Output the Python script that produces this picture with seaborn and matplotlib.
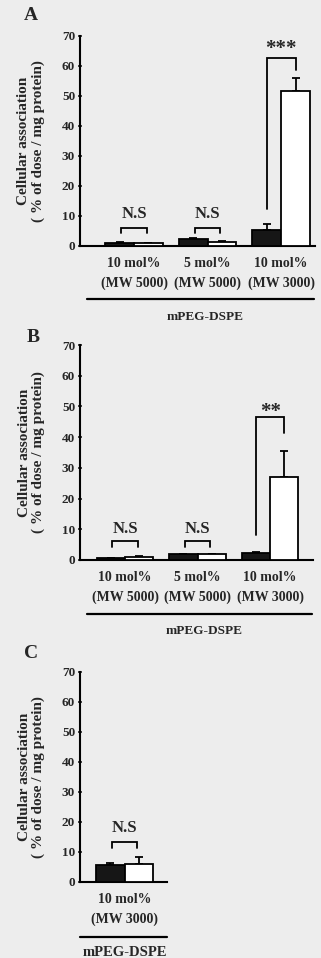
import numpy as np
import pandas as pd
import matplotlib
matplotlib.use("Agg")
import matplotlib.pyplot as plt
import seaborn as sns

sns.set_theme(style="ticks")
plt.rcParams["font.family"] = ["Liberation Serif", "DejaVu Serif"]
plt.rcParams["font.weight"] = "bold"

# ---------------- data ----------------
series_names = ["Formulation 1", "Formulation 2"]  # filled / open bars

cats_AB = ["10 mol%\n(MW 5000)", "5 mol%\n(MW 5000)", "10 mol%\n(MW 3000)"]
cats_C = ["10 mol%\n(MW 3000)"]

A_filled = [1.0, 2.2, 5.3]
A_filled_err = [0.2, 0.6, 2.0]
A_open = [0.9, 1.3, 51.7]
A_open_err = [0.2, 0.3, 4.3]

B_filled = [0.5, 1.8, 2.2]
B_filled_err = [0.2, 0.3, 0.3]
B_open = [0.9, 1.8, 27.0]
B_open_err = [0.3, 0.3, 8.5]

C_filled = [5.6]
C_filled_err = [0.8]
C_open = [6.0]
C_open_err = [2.3]

yticks = [0, 10, 20, 30, 40, 50, 60, 70]
ylabel = "Cellular association\n( % of dose / mg protein)"
group_label = "mPEG-DSPE"

# significance annotations: (category index, text, bracket top, left leg bottom, right leg bottom, text y)
sig_A = [(0, "N.S", 6.0, 4.3, 4.3, 10.8), (1, "N.S", 6.0, 4.3, 4.3, 10.8),
         (2, "***", 62.7, 12.5, 58.7, 65.5)]
sig_B = [(0, "N.S", 6.2, 4.2, 4.2, 10.0), (1, "N.S", 6.2, 4.2, 4.2, 10.0),
         (2, "**", 46.6, 8.0, 41.4, 48.3)]
sig_C = [(0, "N.S", 13.4, 11.4, 11.4, 18.1)]

BG = "#ededed"
FILL = "#161616"


def long_df(cats, filled, opened):
    rows = []
    for c, f, o in zip(cats, filled, opened):
        rows.append({"cat": c, "series": series_names[0], "value": f})
        rows.append({"cat": c, "series": series_names[1], "value": o})
    return pd.DataFrame(rows)


def draw_panel(ax, cats, filled, ferr, opened, oerr, sigs, xlim, line_y, text_y,
               line_x=(0.0, 1.0), group_fs=9.5):
    df = long_df(cats, filled, opened)
    sns.barplot(data=df, x="cat", y="value", hue="series", order=cats,
                hue_order=series_names,
                palette={series_names[0]: FILL, series_names[1]: "white"},
                width=0.78, edgecolor="black", linewidth=1.3, errorbar=None,
                legend=False, ax=ax, zorder=3)
    centers = []
    for cont, vals, errs in zip(ax.containers, [filled, opened], [ferr, oerr]):
        xs = [b.get_x() + b.get_width() / 2 for b in cont]
        centers.append(xs)
        ax.errorbar(xs, vals, yerr=[np.zeros(len(vals)), errs], fmt="none",
                    ecolor="black", elinewidth=1.3, capsize=3, capthick=1.3,
                    zorder=2)
    for i, txt, top, lb, rb, ty in sigs:
        xl, xr = centers[0][i], centers[1][i]
        if txt == "N.S":
            xl, xr = xl + 0.02, xr - 0.02
        ax.plot([xl, xl, xr, xr], [lb, top, top, rb], color="black", lw=1.3,
                zorder=4, solid_joinstyle="miter")
        fs = 12 if txt == "N.S" else 15
        ax.text((xl + xr) / 2, ty, txt, ha="center", va="center",
                fontsize=fs, fontweight="bold", zorder=5)
    ax.set_ylim(0, 70)
    ax.set_xlim(*xlim)
    ax.set_yticks(yticks)
    ax.set_yticklabels([str(t) for t in yticks], fontsize=9.5, fontweight="bold")
    ax.set_xticks(range(len(cats)))
    ax.set_xticklabels(cats, fontsize=10, fontweight="bold", linespacing=1.6)
    ax.tick_params(axis="x", length=0, pad=8)
    ax.tick_params(axis="y", length=3, width=1.2, direction="inout", pad=2)
    ax.set_xlabel("")
    ax.set_ylabel(ylabel, fontsize=11, fontweight="bold", linespacing=1.1)
    ax.set_facecolor(BG)
    for s in ["top", "right"]:
        ax.spines[s].set_visible(False)
    for s in ["left", "bottom"]:
        ax.spines[s].set_linewidth(1.5)
        ax.spines[s].set_color("black")
    ax.plot(list(line_x), [line_y, line_y], transform=ax.transAxes, color="black",
            lw=1.6, clip_on=False)
    ax.text(0.5 * (line_x[0] + line_x[1]) + 0.02, text_y, group_label,
            transform=ax.transAxes, ha="center", va="center",
            fontsize=group_fs, fontweight="bold")


W, H = 321, 958
fig = plt.figure(figsize=(W / 100, H / 100), dpi=100, facecolor=BG)


def rect(left, right, top, bottom):
    return [left / W, 1 - bottom / H, (right - left) / W, (bottom - top) / H]


axA = fig.add_axes(rect(80, 315, 36, 246))
draw_panel(axA, cats_AB, A_filled, A_filled_err, A_open, A_open_err, sig_A,
           (-0.735, 2.46), -0.252, -0.338, line_x=(0.03, 0.995))
axA.yaxis.set_label_coords(-0.15, 0.5)

axB = fig.add_axes(rect(80, 313, 345, 560))
draw_panel(axB, cats_AB, B_filled, B_filled_err, B_open, B_open_err, sig_B,
           (-0.62, 2.59), -0.25, -0.33, line_x=(0.03, 0.995))
axB.yaxis.set_label_coords(-0.15, 0.5)

axC = fig.add_axes(rect(80, 167, 672, 882))
draw_panel(axC, cats_C, C_filled, C_filled_err, C_open, C_open_err, sig_C,
           (-0.61, 0.58), -0.262, -0.335, line_x=(0.0, 1.0), group_fs=10.5)
axC.yaxis.set_label_coords(-0.40, 0.5)

for letter, (x, y) in zip("ABC", [(31, 16), (33, 337), (31, 654)]):
    fig.text(x / W, 1 - y / H, letter, ha="center", va="center",
             fontsize=14, fontweight="bold")

fig.savefig("out.png", dpi=100, facecolor=BG)
